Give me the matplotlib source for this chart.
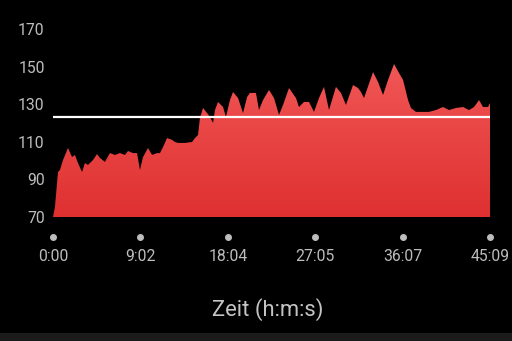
import numpy as np
import matplotlib
matplotlib.use("Agg")
import matplotlib.pyplot as plt
from matplotlib.colors import LinearSegmentedColormap
from matplotlib.patches import Rectangle

# data: time (s) and heart rate
time_s = [0, 12, 31, 43, 62, 93, 118, 136, 155, 180, 198, 217, 248, 273, 291, 322,
          353, 384, 415, 446, 465, 496, 521, 539, 558, 589, 614, 645, 663, 682, 707,
          738, 756, 775, 818, 862, 880, 899, 911, 930, 955, 973, 992, 1004, 1023,
          1054, 1072, 1097, 1116, 1147, 1178, 1203, 1221, 1258, 1277, 1302, 1339,
          1370, 1401, 1426, 1463, 1506, 1525, 1556, 1587, 1618, 1649, 1680, 1711,
          1754, 1785, 1816, 1860, 1891, 1909, 1928, 1984, 2015, 2046, 2077, 2114,
          2145, 2170, 2201, 2219, 2250, 2294, 2331, 2374, 2418, 2455, 2498, 2542,
          2579, 2610, 2641, 2666, 2697, 2709]
heart_rate = [70, 75.3, 93.9, 95, 100.3, 106.7, 101.9, 103, 98.7, 93.9, 98.7, 97.7,
              100.3, 103.5, 101.4, 99.3, 104, 103, 104, 103, 105.1, 104, 104, 95,
              101.9, 106.7, 103, 104, 104, 107.2, 112, 111, 109.9, 109.4, 109.4,
              109.9, 112, 113.6, 122.7, 128, 125.3, 123.2, 120, 126.9, 131.2, 128.5,
              123.2, 132.2, 136.5, 133.3, 125.3, 133.8, 136, 136, 126.9, 132.2, 137.6,
              133.3, 124.3, 129.6, 138.6, 133.3, 128.5, 131.2, 131.2, 125.9, 133.3,
              139.2, 126.9, 139.2, 136, 129.6, 140.2, 138.6, 136.5, 133.3, 147.1,
              141.8, 134.9, 142.9, 151.4, 146.6, 142.9, 132.2, 128, 125.9, 125.9,
              125.9, 126.9, 128.5, 126.9, 128, 128.5, 126.9, 128.5, 132.2, 128.5,
              128.5, 130.6]
average_hr = 123
y_ticks = [70, 90, 110, 130, 150, 170]
x_ticks = [0, 542, 1084, 1625, 2167, 2709]
x_tick_labels = ["0:00", "9:02", "18:04", "27:05", "36:07", "45:09"]
x_label = "Zeit (h:m:s)"

plt.rcParams['font.family'] = ['Roboto', 'DejaVu Sans']

fig = plt.figure(figsize=(5.12, 3.41), dpi=100, facecolor='black')
fig.patches.append(Rectangle((0, 0), 1, 8 / 341, transform=fig.transFigure,
                             facecolor='#1b1b1b', edgecolor='none', zorder=0))
ax = fig.add_axes([53 / 512, (341 - 217) / 341, 437 / 512, 188 / 341])
ax.set_facecolor('black')

xmin, xmax = x_ticks[0], x_ticks[-1]
ymin, ymax = y_ticks[0], y_ticks[-1]

poly = ax.fill_between(time_s, heart_rate, ymin, facecolor='none', edgecolor='none')
cmap = LinearSegmentedColormap.from_list('g', ['#df3030', '#f25858'])
grad = np.linspace(0, 1, 256).reshape(-1, 1)
img = ax.imshow(grad, cmap=cmap, origin='lower', aspect='auto',
                extent=[xmin, xmax, ymin, 155], zorder=1)
path = poly.get_paths()[0]
img.set_clip_path(path, transform=ax.transData)

ax.axhline(average_hr, color='white', lw=1.6, zorder=3)

ax.set_xlim(xmin, xmax)
ax.set_ylim(ymin, ymax)
for s in ax.spines.values():
    s.set_visible(False)

ax.set_yticks(y_ticks)
ax.set_yticklabels([str(v) for v in y_ticks])
ax.tick_params(axis='y', length=0, pad=6, labelsize=11.3, labelcolor='#bdbdbd')
ax.set_xticks(x_ticks)
ax.set_xticklabels(x_tick_labels)
ax.tick_params(axis='x', length=0, pad=23, labelsize=11.3, labelcolor='#bdbdbd')

ax.scatter(x_ticks, [-0.104] * len(x_ticks), s=16, color='#bdbdbd',
           transform=ax.get_xaxis_transform(), clip_on=False, zorder=4)

fig.text(268 / 512, 1 - 310 / 341, x_label, ha='center', va='center',
         fontsize=15.8, color='#c4c4c4')

fig.savefig('out.png', dpi=100, facecolor='black')
